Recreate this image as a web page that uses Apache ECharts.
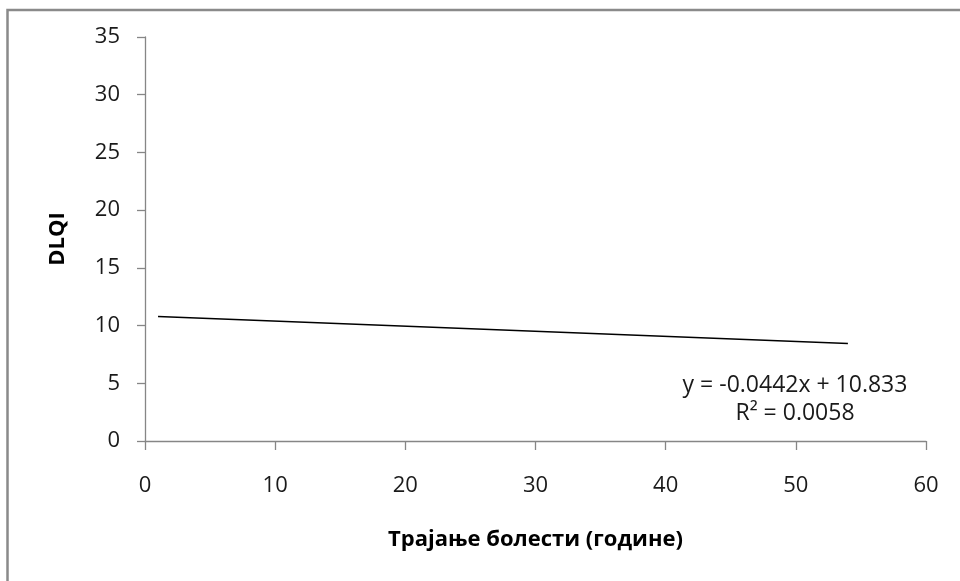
<!DOCTYPE html>
<html>
<head>
<meta charset="utf-8">
<script src="https://cdn.jsdelivr.net/npm/echarts@6/dist/echarts.min.js"></script>
<style>html,body{margin:0;padding:0;background:#fff;}#c{width:960px;height:581px;}</style>
</head>
<body>
<div id="c"></div>
<script>
// Data
const trendX = [1, 54];
const trendY = [10.79, 8.45];
const yTicks = [0, 5, 10, 15, 20, 25, 30, 35];
const xTicks = [0, 10, 20, 30, 40, 50, 60];
const xTitle = 'Трајање болести (године)';
const yTitle = 'DLQI';
const eqText = 'y = -0.0442x + 10.833';
const r2Text = 'R² = 0.0058';

const FONT = '"Open Sans", sans-serif';
const chart = echarts.init(document.getElementById('c'), null, {renderer: 'canvas'});
const axisCol = '#868686';
chart.setOption({
  animation: false,
  backgroundColor: '#fff',
  grid: {left: 145, right: 34, top: 37, bottom: 140, containLabel: false},
  xAxis: {
    type: 'value', min: xTicks[0], max: xTicks[xTicks.length - 1], interval: 10,
    name: xTitle, nameLocation: 'middle', nameGap: 88,
    nameTextStyle: {fontFamily: FONT, fontSize: 22, fontWeight: 'bold', color: '#000'},
    axisLine: {show: true, lineStyle: {color: axisCol, width: 1.3}},
    axisTick: {show: true, length: 9, lineStyle: {color: axisCol, width: 1.3}},
    axisLabel: {margin: 34, fontFamily: FONT, fontSize: 22, color: '#1a1a1a'},
    splitLine: {show: false}
  },
  yAxis: {
    type: 'value', min: yTicks[0], max: yTicks[yTicks.length - 1], interval: 5,
    axisLine: {show: true, lineStyle: {color: axisCol, width: 1.3}},
    axisTick: {show: true, length: 8, lineStyle: {color: axisCol, width: 1.3}},
    axisLabel: {margin: 25, fontFamily: FONT, fontSize: 22, color: '#1a1a1a'},
    splitLine: {show: false}
  },
  series: [{
    type: 'line',
    data: trendX.map((x, i) => [x, trendY[i]]),
    showSymbol: false,
    lineStyle: {color: '#000', width: 1.5},
    silent: true
  }],
  graphic: [
    {type: 'rect', shape: {x: 7.5, y: 10, width: 1200, height: 1200},
     style: {fill: 'none', stroke: '#8a8a8a', lineWidth: 2.5}, z: 10},
    {type: 'text', x: 58, y: 239, rotation: Math.PI / 2,
     style: {text: yTitle, fontFamily: FONT, fontSize: 22, fontWeight: 'bold', fill: '#000',
             textAlign: 'center', textVerticalAlign: 'middle'}},
    {type: 'text', x: 795, y: 385,
     style: {text: eqText, fontFamily: FONT, fontSize: 23, fill: '#1a1a1a',
             textAlign: 'center', textVerticalAlign: 'middle'}},
    {type: 'text', x: 795, y: 413,
     style: {text: r2Text, fontFamily: FONT, fontSize: 23, fill: '#1a1a1a',
             textAlign: 'center', textVerticalAlign: 'middle'}}
  ]
});
</script>
</body>
</html>
